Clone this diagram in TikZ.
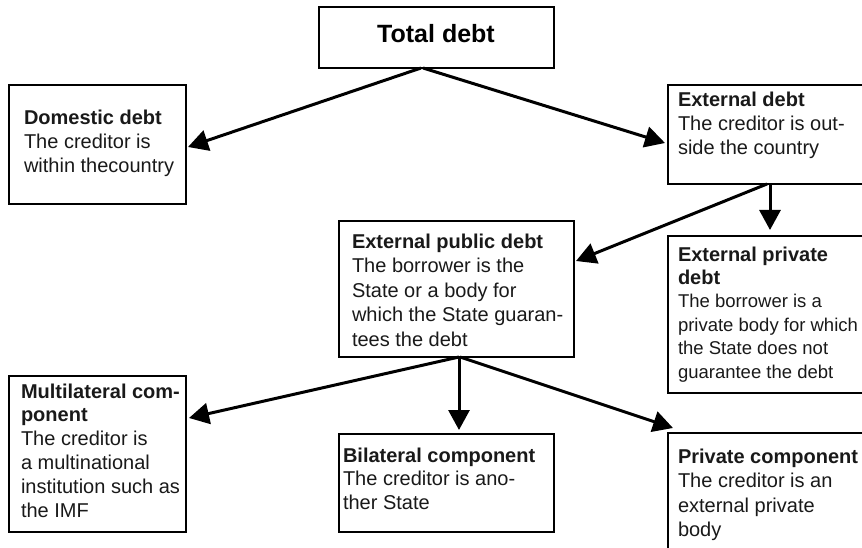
\documentclass[tikz,border=0pt]{standalone}
\usepackage{fontspec}
\setmainfont{Liberation Sans}
\usetikzlibrary{arrows.meta,calc}
\newcommand\tst[1]{\rule{0pt}{#1}}
\newcommand\bigb[1]{{\fontsize{20}{23.4}\selectfont\bfseries #1}}
\begin{document}
\begin{tikzpicture}[x=1pt,y=-1pt,
  box/.style={draw, line width=1.6pt, inner sep=0pt, outer sep=0pt, anchor=north west},
  txt/.style={inner sep=0pt, outer sep=0pt, anchor=north west, align=left, text=black!90},
  arr/.style={line width=3pt, -{Triangle[length=20pt,width=21pt]}}]
\useasboundingbox (0,0) rectangle (862,548);

% boxes
\node[box, minimum width=235pt, minimum height=61pt]  (total) at (319,7) {};
\node[box, minimum width=177pt, minimum height=119pt] (dom)   at (9,85) {};
\node[box, minimum width=196pt, minimum height=99pt]  (ext)   at (668,85) {};
\node[box, minimum width=235pt, minimum height=136pt] (pub)   at (339,221) {};
\node[box, minimum width=196pt, minimum height=157pt] (priv)  at (668,236) {};
\node[box, minimum width=177pt, minimum height=156pt] (multi) at (9,376) {};
\node[box, minimum width=215pt, minimum height=98pt]  (bil)   at (339,434) {};
\node[box, minimum width=196pt, minimum height=125pt] (pcomp) at (668,433) {};

% texts
\node[inner sep=0pt, anchor=base, font=\fontsize{25}{30}\selectfont\bfseries] (totalt) at (436,43) {Total debt};
\node[txt, font=\fontsize{20}{24}\selectfont] (domt) at (24,108.2)
  {\tst{16.8pt}\textbf{Domestic debt}\\The creditor is\\within thecountry};
\node[txt, font=\fontsize{20}{24}\selectfont] (extt) at (678,90.2)
  {\tst{16.8pt}\textbf{External debt}\\The creditor is out-\\side the country};
\node[txt, font=\fontsize{20}{24.5}\selectfont] (pubt) at (352,231.2)
  {\tst{16.8pt}\textbf{External public debt}\\The borrower is the\\State or a body for\\which the State guaran-\\tees the debt};
\node[txt, font=\fontsize{18.5}{23.4}\selectfont] (privt) at (678,244.4)
  {\tst{16.6pt}\bigb{External private}\\\bigb{debt}\\The borrower is a\\private body for which\\the State does not\\guarantee the debt};
\node[txt, font=\fontsize{20}{23.8}\selectfont] (multit) at (21,381.3)
  {\tst{16.7pt}\textbf{Multilateral com-}\\\textbf{ponent}\\The creditor is\\a multinational\\institution such as\\the IMF};
\node[txt, font=\fontsize{20}{23.5}\selectfont] (bilt) at (343,445.4)
  {\tst{16.6pt}\textbf{Bilateral component}\\The creditor is ano-\\ther State};
\node[txt, font=\fontsize{20}{24.5}\selectfont] (pcompt) at (678,446.2)
  {\tst{16.8pt}\textbf{Private component}\\The creditor is an\\external private\\body};

% connectors
\draw[arr] ($(total.south west)+(102,0)$) -- ($(dom.east)+(2,2.5)$);
\draw[arr] ($(total.south west)+(104,0)$) -- ($(ext.west)+(-3,8.5)$);
\draw[arr] ($(ext.south west)+(99,0)$) -- ($(pub.north east)+(2,40)$);
\draw[arr] ($(ext.south west)+(102,0)$) -- ($(priv.north west)+(102,-6)$);
\draw[arr] ($(pub.south west)+(120,0)$) -- ($(multi.north east)+(3,42)$);
\draw[arr] ($(pub.south west)+(120,0)$) -- ($(bil.north west)+(120,-4)$);
\draw[arr] ($(pub.south west)+(121,0)$) -- ($(pcomp.north west)+(5,-5)$);
\end{tikzpicture}
\end{document}
